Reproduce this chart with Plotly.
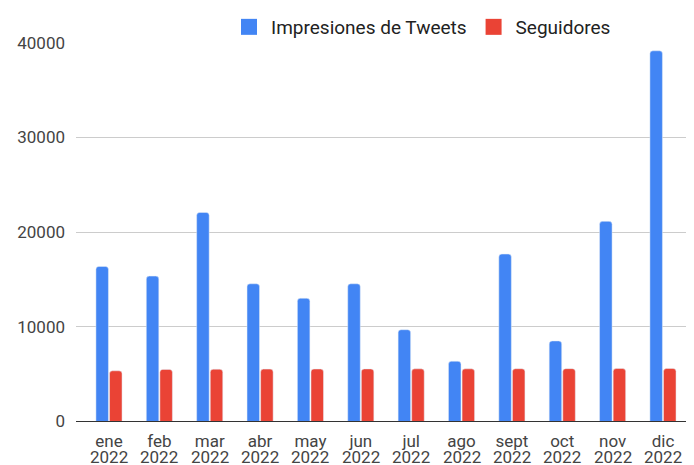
import plotly.graph_objects as go

meses = ['ene', 'feb', 'mar', 'abr', 'may', 'jun', 'jul', 'ago', 'sept', 'oct', 'nov', 'dic']
anio = '2022'
impresiones = [16370, 15350, 22070, 14540, 13010, 14540, 9690, 6360, 17680, 8500, 21130, 39140]
seguidores = [5350, 5500, 5520, 5530, 5540, 5550, 5560, 5560, 5570, 5580, 5590, 5600]

series = [('Impresiones de Tweets', impresiones, '#4285F4'),
          ('Seguidores', seguidores, '#EA4335')]

fig = go.Figure()

for nombre, valores, color in series:
    fig.add_trace(go.Bar(x=meses, y=valores, name=nombre, marker_color=color, showlegend=False))

# entradas de leyenda con cuadrados más grandes
for nombre, valores, color in series:
    fig.add_trace(go.Scatter(x=[None], y=[None], mode='markers', name=nombre,
                             marker=dict(symbol='square', size=18, color=color)))

# segunda línea de las etiquetas del eje x (año)
for m in meses:
    fig.add_annotation(x=m, y=0, xref='x', yref='y', text=anio, showarrow=False,
                       yanchor='middle', yshift=-36, font=dict(size=17, color='#444444'))

# la página html añade 8px de margen al cuerpo
W, H = 694 - 8, 465 - 8
fig.update_layout(
    width=W, height=H,
    margin=dict(l=0, r=0, t=0, b=0),
    paper_bgcolor='white', plot_bgcolor='white',
    font=dict(family='Roboto, Arial, sans-serif', size=17, color='#444444'),
    barmode='group', bargap=0.46, bargroupgap=0.08,
    barcornerradius=3,
    showlegend=True,
    legend=dict(orientation='h', x=(219 / W), xanchor='left', y=1 - 14 / H, yanchor='middle',
                font=dict(size=19, color='#222222'), itemwidth=34, traceorder='normal'),
)

fig.update_xaxes(domain=[68 / W, 1], range=[-0.655, 11.616], showgrid=False, showline=True,
                 linecolor='#333333', linewidth=1, tickfont=dict(size=17, color='#444444'),
                 ticks='', ticklabelstandoff=4, automargin=False)
fig.update_yaxes(domain=[44 / H, 1 - 30 / H], range=[0, 40000], dtick=10000, showgrid=True,
                 gridcolor='#cccccc', gridwidth=1, zeroline=False, showline=False, tickformat='d',
                 ticklabelstandoff=10, tickfont=dict(size=17, color='#444444'), automargin=False)

fig.write_html("out.html")
